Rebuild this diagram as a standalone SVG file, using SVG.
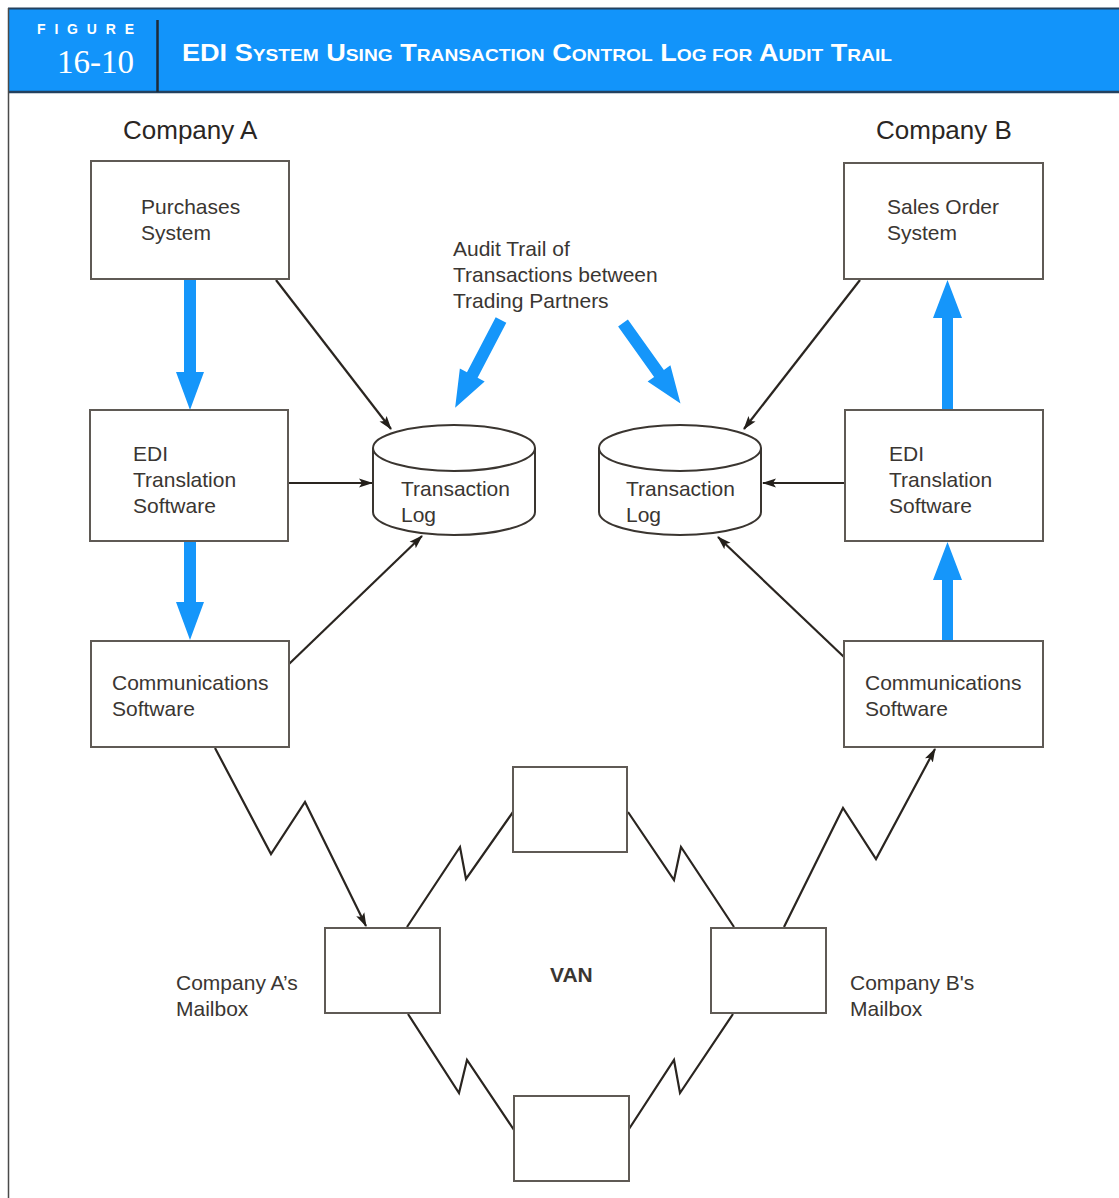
<svg xmlns="http://www.w3.org/2000/svg" width="1119" height="1198" viewBox="0 0 1119 1198">
  <style>
    .box { fill: #ffffff; stroke: #5f5a55; stroke-width: 2; }
    .cyl { fill: #ffffff; stroke: #3a3530; stroke-width: 2; }
    .lbl { font-family: "Liberation Sans", Arial, sans-serif; font-size: 21px; fill: #3a3632; }
    .co { font-family: "Liberation Sans", Arial, sans-serif; font-size: 26px; fill: #2a2623; }
    .wire { fill: none; stroke: #2a2520; stroke-width: 2.2; stroke-linejoin: miter; }
    .flow { fill: #1596fa; }
    .hdr { font-family: "Liberation Sans", Arial, sans-serif; font-weight: bold; fill: #ffffff; }
  </style>
  <defs>
    <marker id="tip" markerUnits="userSpaceOnUse" markerWidth="14" markerHeight="10" viewBox="0 0 14 10" refX="13" refY="5" orient="auto">
      <path d="M0,0.5 L14,5 L0,9.5 L3,5 z" fill="#231f1a"/>
    </marker>
  </defs>

  <rect width="1119" height="1198" fill="#ffffff"/>

  <!-- header band -->
  <g id="header">
    <rect x="8" y="8" width="1111" height="84" fill="#1294fa"/>
    <line x1="8" y1="8.5" x2="1119" y2="8.5" stroke="#23415f" stroke-width="2"/>
    <line x1="8" y1="92" x2="1119" y2="92" stroke="#23415f" stroke-width="2.5"/>
    <line x1="8.5" y1="8" x2="8.5" y2="1198" stroke="#4a4a4a" stroke-width="1.5"/>
    <line x1="157.5" y1="20" x2="157.5" y2="92" stroke="#1e2a36" stroke-width="2.5"/>
    <text class="hdr" x="37" y="34" font-size="14" textLength="97" lengthAdjust="spacing">FIGURE</text>
    <text x="57" y="73" font-family="Liberation Serif, 'Times New Roman', serif" font-size="33" fill="#ffffff" textLength="77" lengthAdjust="spacingAndGlyphs">16-10</text>
    <text class="hdr" x="182" y="61" font-size="24" textLength="710" lengthAdjust="spacingAndGlyphs">EDI S<tspan font-size="17">YSTEM</tspan> U<tspan font-size="17">SING</tspan> T<tspan font-size="17">RANSACTION</tspan> C<tspan font-size="17">ONTROL</tspan> L<tspan font-size="17">OG FOR</tspan> A<tspan font-size="17">UDIT</tspan> T<tspan font-size="17">RAIL</tspan></text>
  </g>

  <text class="co" x="123" y="139">Company A</text>
  <text class="co" x="876" y="139">Company B</text>

  <!-- connectors -->
  <g id="connectors">
    <!-- blue document flow -->
    <polygon class="flow" points="184,279 196,279 196,372 204,372 190,410 176,372 184,372"/>
    <polygon class="flow" points="184,541 196,541 196,602 204,602 190,640 176,602 184,602"/>
    <polygon class="flow" points="942,410 953,410 953,318 962,318 947.5,280 933,318 942,318"/>
    <polygon class="flow" points="942,641 953,641 953,580 962,580 947.5,542 933,580 942,580"/>
    <!-- audit trail pointers -->
    <polygon class="flow" transform="translate(501,320) rotate(117.6)" points="0,-6 62,-6 62,-14 99,0 62,14 62,6 0,6"/>
    <polygon class="flow" transform="translate(623,323) rotate(54.5)" points="0,-6 62,-6 62,-14 99,0 62,14 62,6 0,6"/>

    <!-- log writes, company A -->
    <line class="wire" x1="276" y1="280" x2="391" y2="429" marker-end="url(#tip)"/>
    <line class="wire" x1="288" y1="483" x2="372" y2="483" marker-end="url(#tip)"/>
    <line class="wire" x1="289" y1="664" x2="422" y2="536" marker-end="url(#tip)"/>
    <!-- log writes, company B -->
    <line class="wire" x1="860" y1="280" x2="744" y2="429" marker-end="url(#tip)"/>
    <line class="wire" x1="845" y1="483" x2="763" y2="483" marker-end="url(#tip)"/>
    <line class="wire" x1="844" y1="657" x2="718" y2="537" marker-end="url(#tip)"/>

    <!-- telecom links -->
    <polyline class="wire" points="215,748 271,854 305,802 366,926" marker-end="url(#tip)"/>
    <polyline class="wire" points="407,927 460,847 466,879 513,812"/>
    <polyline class="wire" points="628,812 674,880 681,847 734,927"/>
    <polyline class="wire" points="784,927 843,808 876,859 935,749" marker-end="url(#tip)"/>
    <polyline class="wire" points="408,1014 459,1093 467,1060 514,1130"/>
    <polyline class="wire" points="733,1014 680,1093 674,1060 629,1129"/>
  </g>

  <!-- company A nodes -->
  <g id="purchases">
    <rect class="box" x="91" y="161" width="198" height="118"/>
    <text class="lbl" x="141" y="214">Purchases</text>
    <text class="lbl" x="141" y="240">System</text>
  </g>
  <g id="edi-a">
    <rect class="box" x="90" y="410" width="198" height="131"/>
    <text class="lbl" x="133" y="461">EDI</text>
    <text class="lbl" x="133" y="487">Translation</text>
    <text class="lbl" x="133" y="513">Software</text>
  </g>
  <g id="comm-a">
    <rect class="box" x="91" y="641" width="198" height="106"/>
    <text class="lbl" x="112" y="690">Communications</text>
    <text class="lbl" x="112" y="716">Software</text>
  </g>
  <g id="log-a">
    <path class="cyl" d="M373,448 L373,512 A81,23 0 0 0 535,512 L535,448"/>
    <ellipse class="cyl" cx="454" cy="448" rx="81" ry="23"/>
    <text class="lbl" x="401" y="496">Transaction</text>
    <text class="lbl" x="401" y="522">Log</text>
  </g>

  <!-- audit note -->
  <g id="audit-note">
    <text class="lbl" x="453" y="256">Audit Trail of</text>
    <text class="lbl" x="453" y="282">Transactions between</text>
    <text class="lbl" x="453" y="308">Trading Partners</text>
  </g>

  <!-- company B nodes -->
  <g id="sales-order">
    <rect class="box" x="844" y="163" width="199" height="116"/>
    <text class="lbl" x="887" y="214">Sales Order</text>
    <text class="lbl" x="887" y="240">System</text>
  </g>
  <g id="edi-b">
    <rect class="box" x="845" y="410" width="198" height="131"/>
    <text class="lbl" x="889" y="461">EDI</text>
    <text class="lbl" x="889" y="487">Translation</text>
    <text class="lbl" x="889" y="513">Software</text>
  </g>
  <g id="comm-b">
    <rect class="box" x="844" y="641" width="199" height="106"/>
    <text class="lbl" x="865" y="690">Communications</text>
    <text class="lbl" x="865" y="716">Software</text>
  </g>
  <g id="log-b">
    <path class="cyl" d="M599,448 L599,512 A81,23 0 0 0 761,512 L761,448"/>
    <ellipse class="cyl" cx="680" cy="448" rx="81" ry="23"/>
    <text class="lbl" x="626" y="496">Transaction</text>
    <text class="lbl" x="626" y="522">Log</text>
  </g>

  <!-- value-added network -->
  <g id="van-top">
    <rect class="box" x="513" y="767" width="114" height="85"/>
  </g>
  <g id="mailbox-a">
    <rect class="box" x="325" y="928" width="115" height="85"/>
    <text class="lbl" x="176" y="990">Company A’s</text>
    <text class="lbl" x="176" y="1016">Mailbox</text>
  </g>
  <g id="van-label">
    <text class="lbl" x="550" y="982" font-weight="bold" fill="#2a2623">VAN</text>
  </g>
  <g id="mailbox-b">
    <rect class="box" x="711" y="928" width="115" height="85"/>
    <text class="lbl" x="850" y="990">Company B's</text>
    <text class="lbl" x="850" y="1016">Mailbox</text>
  </g>
  <g id="van-bottom">
    <rect class="box" x="514" y="1096" width="115" height="85"/>
  </g>
</svg>
